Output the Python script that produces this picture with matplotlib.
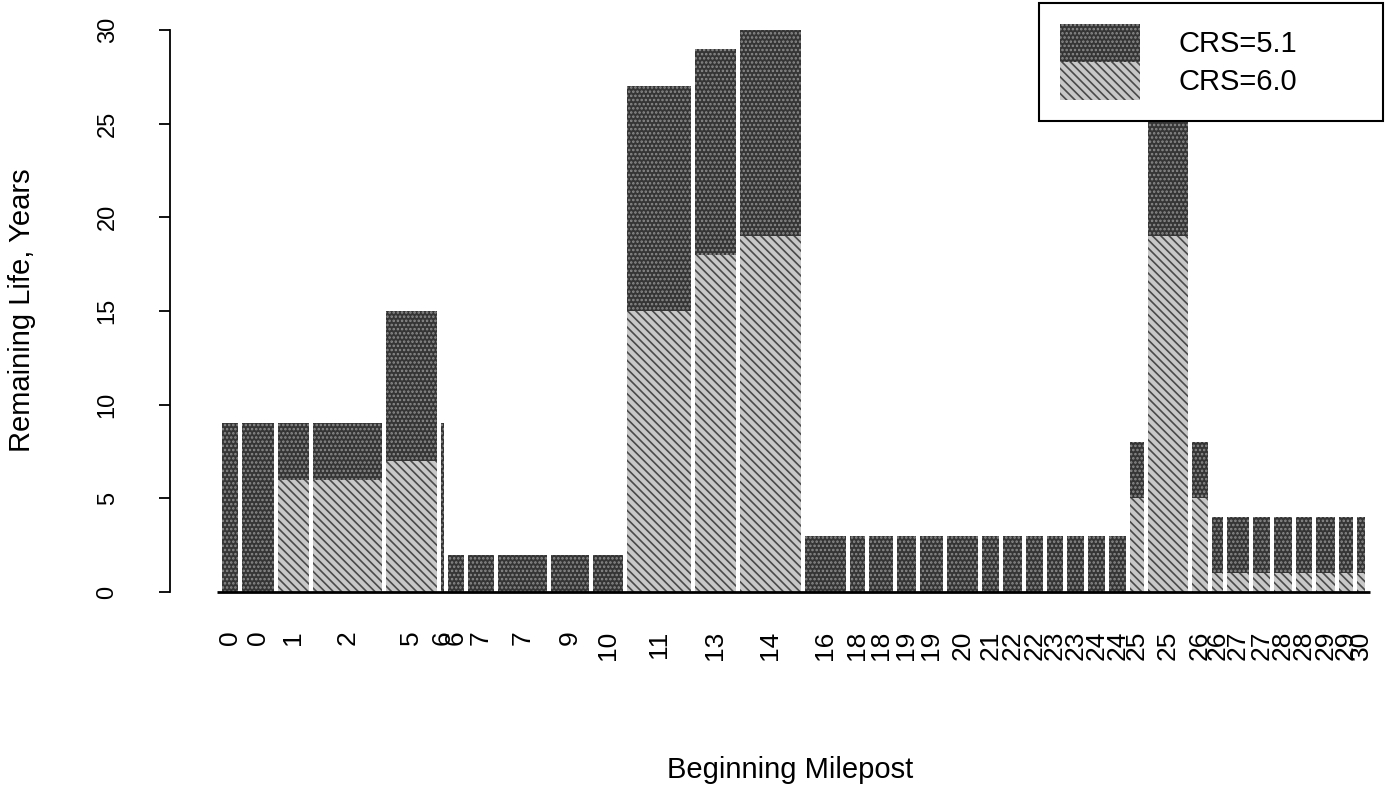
import matplotlib.pyplot as plt
from matplotlib.patches import Patch
import numpy as np

plt.rcParams['font.family'] = 'Liberation Sans'
plt.rcParams['hatch.linewidth'] = 1.2

# Beginning milepost of each segment (tick labels)
mileposts = ['0', '0', '1', '2', '5', '6', '6', '7', '7', '9', '10', '11', '13', '14',
             '16', '18', '18', '19', '19', '20', '21', '22', '22', '23', '23', '24', '24',
             '25', '25', '26', '26', '27', '27', '28', '28', '29', '29', '30']
# relative segment lengths (bar widths)
seg_len = [15.5, 31.5, 30.5, 68.5, 50.5, 2.5, 15.5, 25.5, 48.5, 37.5, 29.5, 63.5, 40.5, 60.5,
           40.5, 14.5, 23.5, 18.5, 22.5, 30.5, 16.5, 18.5, 16.5, 15.5, 16.5, 16.5, 16.5,
           13.5, 39.5, 15.5, 10.5, 21.5, 16.5, 17.5, 15.5, 18.5, 13.5, 8]
# remaining life, years
crs_51 = [9, 9, 9, 9, 15, 9, 2, 2, 2, 2, 2, 27, 29, 30,
          3, 3, 3, 3, 3, 3, 3, 3, 3, 3, 3, 3, 3,
          8, 30, 8, 4, 4, 4, 4, 4, 4, 4, 4]
crs_60 = [0, 0, 6, 6, 7, 0, 0, 0, 0, 0, 0, 15, 18, 19,
          0, 0, 0, 0, 0, 0, 0, 0, 0, 0, 0, 0, 0,
          5, 19, 5, 1, 1, 1, 1, 1, 1, 1, 1]

gap = 4.5
widths = np.array(seg_len, dtype=float)
lefts = np.concatenate([[0], np.cumsum(widths + gap)[:-1]])
centers = lefts + widths / 2

dark_style = dict(facecolor='#353535', edgecolor='#8c8c8c', hatch='....', linewidth=0)
light_style = dict(facecolor='#c8c8c8', edgecolor='#4a4a4a', hatch='\\\\\\\\', linewidth=0)

fig = plt.figure(figsize=(13.85, 7.86), dpi=100)
ax = fig.add_axes([170 / 1385, 1 - 600 / 786, 1215 / 1385, 597 / 786])

ax.bar(lefts, crs_51, width=widths, align='edge', **dark_style)
ax.bar(lefts, crs_60, width=widths, align='edge', **light_style)
ax.hlines(0, lefts[0] - 5, lefts[-1] + widths[-1] + 5, color='black', linewidth=2)

ax.set_xlim(-52, 1163)
ax.set_ylim(-0.427, 31.44)
ax.set_xticks(centers)
ax.set_xticklabels(mileposts, rotation=90, fontsize=19)
ax.tick_params(axis='x', length=0, pad=22)
ax.set_yticks([0, 5, 10, 15, 20, 25, 30])
ax.tick_params(axis='y', length=8, width=1.3, pad=29, labelsize=17, labelrotation=90)
for lab in ax.get_yticklabels():
    lab.set_va('center')

for s in ['top', 'right', 'bottom']:
    ax.spines[s].set_visible(False)
ax.spines['left'].set_bounds(0, 30)
ax.spines['left'].set_linewidth(1.3)

fig.text(22 / 1385, 1 - 310 / 786, 'Remaining Life, Years', rotation=90,
         ha='center', va='center', fontsize=21)
fig.text(790 / 1385, 1 - 770 / 786, 'Beginning Milepost', ha='center', va='center', fontsize=21)

handles = [Patch(**dark_style), Patch(**light_style)]
leg = ax.legend(handles, ['CRS=5.1', 'CRS=6.0'], loc='upper left', mode='expand',
                bbox_to_anchor=(0.7152, 0.8007, 0.2831, 0.1993), borderaxespad=0,
                fontsize=21, handlelength=2.75, handleheight=1.62, labelspacing=0,
                handletextpad=1.3, borderpad=0.72, fancybox=False,
                framealpha=1, edgecolor='black')
leg.get_frame().set_linewidth(1.5)

fig.savefig('out.png', dpi=100)
